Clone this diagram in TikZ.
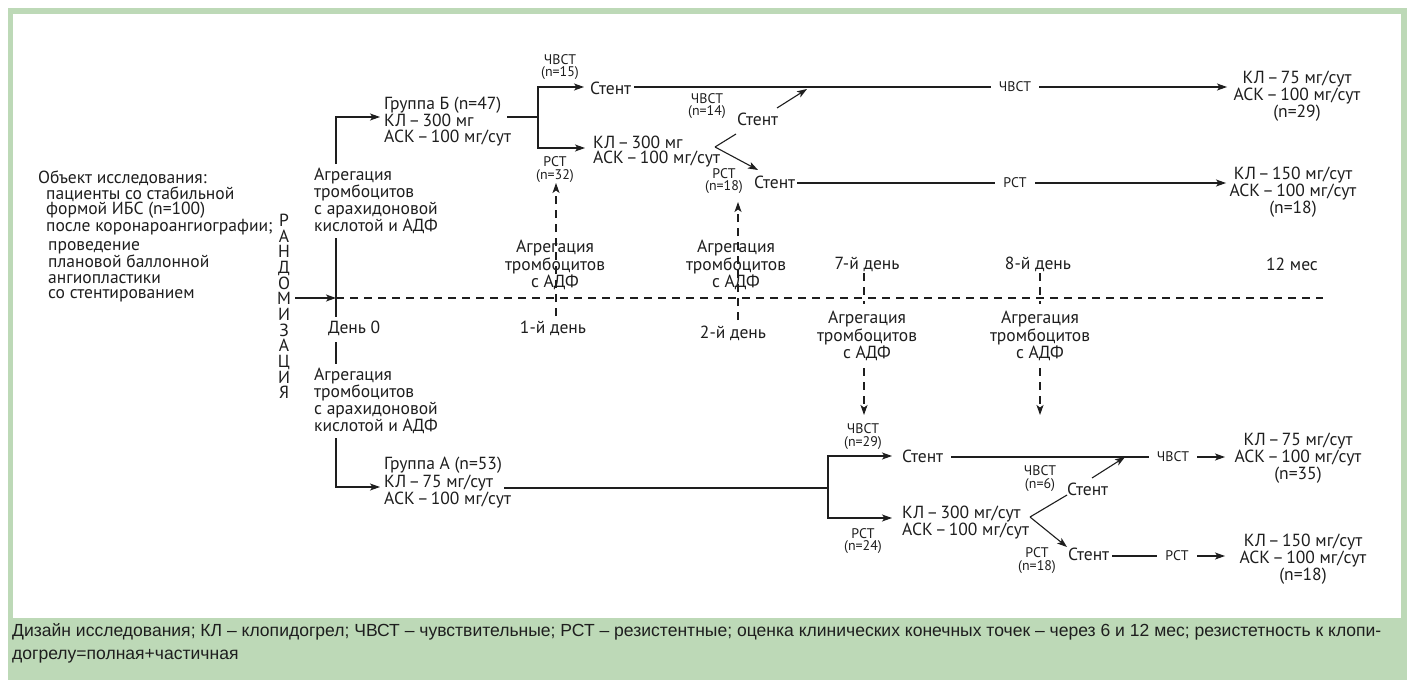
\documentclass[tikz,border=0pt]{standalone}
\usepackage{fontspec}
\setmainfont{PT Sans}
\newfontfamily\capfont{Liberation Sans}
\usetikzlibrary{arrows.meta}
\definecolor{gframe}{RGB}{189,217,183}
\definecolor{ink}{RGB}{30,30,30}
\newcommand{\sd}{\hspace{0.13em}–\hspace{0.13em}}
\tikzset{
  txt/.style={inner sep=0pt, font=\fontsize{17.6}{15.7}\selectfont, align=left, text=ink},
  ctxt/.style={inner sep=0pt, font=\fontsize{17.6}{15.7}\selectfont, align=center, text=ink},
  rtxt/.style={inner sep=0pt, font=\fontsize{17.6}{14.5}\selectfont, align=center, text=ink},
  sm/.style={inner sep=0pt, font=\fontsize{14}{12.5}\selectfont, align=center, text=ink},
  lbl/.style={fill=white, inner xsep=8bp, inner ysep=1bp, font=\fontsize{14}{12}\selectfont, text=ink},
  ln/.style={line width=1.1bp, draw=ink},
  arr/.style={ln, -{Stealth[length=10bp,width=7bp,inset=2.5bp]}},
  dsh/.style={ln, dash pattern=on 8bp off 6bp},
  darr/.style={dsh, -{Stealth[length=10bp,width=7bp,inset=2.5bp]}},
  captxt/.style={inner sep=0pt, anchor=west, font=\capfont\fontsize{17.6}{18}\selectfont, text=ink},
}
\begin{document}
\begin{tikzpicture}[x=1bp,y=-1bp]
\useasboundingbox (0,0) rectangle (1407,680);
\fill[gframe] (8,8) rectangle (1407,680);
\fill[white] (13,14) rectangle (1401,618);

% left texts
\node[txt, anchor=west] (obj1) at (38,178.5) {Объект исследования:};
\node[txt, anchor=west] (obj2) at (46,211) {пациенты со стабильной\\формой ИБС (n=100)\\после коронароангиографии;};
\node[txt, anchor=west] (obj3) at (48,272) {проведение\\плановой баллонной\\ангиопластики\\со стентированием};
\node[ctxt] (rand) at (284,306.5) {Р\\А\\Н\\Д\\О\\М\\И\\З\\А\\Ц\\И\\Я};

% day 0 column
\coordinate (d0) at (336,298);
\coordinate (randout) at (295,298);
\node[txt, anchor=west] (aggB) at (314,200.5) {Агрегация\\тромбоцитов\\с арахидоновой\\кислотой и АДФ};
\node[txt, anchor=west] (aggA) at (314,400.5) {Агрегация\\тромбоцитов\\с арахидоновой\\кислотой и АДФ};
\node[txt, anchor=west] (day0) at (328,328) {День 0};
\draw[arr] (randout) -- (d0);
\coordinate (d0a) at (336,164);
\coordinate (d0b) at (336,238);
\coordinate (d0c) at (336,317);
\coordinate (d0d) at (336,342);
\coordinate (d0e) at (336,364);
\coordinate (d0f) at (336,438);
\coordinate (grpBin) at (380,117);
\coordinate (grpAin) at (380,487);
\draw[ln] (d0b) -- (d0c);
\draw[ln] (d0d) -- (d0e);
\draw[arr] (d0a) |- (grpBin);
\draw[arr] (d0f) |- (grpAin);

% timeline
\coordinate (tlend) at (1323,298);
\draw[dsh] (d0) -- (tlend);

% group B
\node[txt, anchor=west] (grpB) at (384,121.5) {Группа Б (n=47)\\КЛ\sd 300 мг\\АСК\sd 100 мг/сут};
\coordinate (grpBout) at (507,117);
\coordinate (forkB) at (538,117);
\coordinate (stB1in) at (584,87);
\coordinate (klBin) at (585,148);
\draw[ln] (grpBout) -- (forkB);
\draw[arr] (forkB) |- (stB1in);
\draw[arr] (forkB) |- (klBin);
\node[sm] (chB15) at (560,67) {ЧВСТ\\(n=15)};
\node[sm] (rsB32) at (555,169.5) {РСТ\\(n=32)};
\node[txt, anchor=west] (stB1) at (590,88) {Стент};
\node[txt, anchor=west] (klB) at (593,151.5) {КЛ\sd 300 мг\\АСК\sd 100 мг/сут};
\coordinate (forkB2) at (715,147);
\coordinate (stB2in) at (736,134);
\coordinate (stB2out) at (777,108);
\coordinate (mergeB) at (807,89);
\coordinate (stB3in) at (758,170);
\draw[ln] (forkB2) -- (stB2in);
\draw[arr] (stB2out) -- (mergeB);
\draw[arr] (forkB2) -- (stB3in);
\node[txt, anchor=west] (stB2) at (737,119) {Стент};
\node[sm] (chB14) at (707,106) {ЧВСТ\\(n=14)};
\node[txt, anchor=west] (stB3) at (754,182) {Стент};
\node[sm, font=\fontsize{14}{12}\selectfont] (rsB18) at (724,181.5) {РСТ\\(n=18)};
\coordinate (resB1in) at (1227,87);
\coordinate (resB2in) at (1226,183);
\coordinate (stB1out) at (634,87);
\coordinate (stB3out) at (797,183);
\draw[arr] (stB1out) -- (resB1in);
\draw[arr] (stB3out) -- (resB2in);
\node[lbl] (lB1) at (1015,87) {ЧВСТ};
\node[lbl] (lB2) at (1015,183) {РСТ};
\node[rtxt] (resB1) at (1297,96) {КЛ\sd 75 мг/сут\\АСК\sd 100 мг/сут\\(n=29)};
\node[rtxt] (resB2) at (1293,192) {КЛ\sd 150 мг/сут\\АСК\sd 100 мг/сут\\(n=18)};

% day markers
\coordinate (v1top) at (556,183);
\coordinate (v1bot) at (556,316);
\coordinate (v2top) at (738,202);
\coordinate (v2bot) at (738,320);
\draw[darr] (v1bot) -- (v1top);
\draw[darr] (v2bot) -- (v2top);
\node[ctxt] (agg1) at (555,265) {Агрегация\\тромбоцитов\\с АДФ};
\node[ctxt] (agg2) at (736,265) {Агрегация\\тромбоцитов\\с АДФ};
\node[ctxt] (day1) at (553,328) {1-й день};
\node[ctxt] (day2) at (733,333) {2-й день};
\node[ctxt] (day7) at (867,264) {7-й день};
\node[ctxt] (day8) at (1038,264) {8-й день};
\node[ctxt] (m12) at (1292,264) {12 мес};
\coordinate (v7a) at (864,273);
\coordinate (v7b) at (864,304);
\coordinate (v7c) at (864,368);
\coordinate (v7d) at (864,415);
\coordinate (v8a) at (1040,273);
\coordinate (v8b) at (1040,304);
\coordinate (v8c) at (1040,368);
\coordinate (v8d) at (1040,415);
\draw[dsh] (v7a) -- (v7b);
\draw[dsh] (v8a) -- (v8b);
\draw[darr] (v7c) -- (v7d);
\draw[darr] (v8c) -- (v8d);
\node[ctxt] (agg7) at (867,336) {Агрегация\\тромбоцитов\\с АДФ};
\node[ctxt] (agg8) at (1040,336) {Агрегация\\тромбоцитов\\с АДФ};

% group A
\node[txt, anchor=west] (grpA) at (384,482.5) {Группа А (n=53)\\КЛ\sd 75 мг/сут\\АСК\sd 100 мг/сут};
\coordinate (grpAout) at (504,488);
\coordinate (forkA) at (828,488);
\coordinate (stA1in) at (892,456);
\coordinate (klAin) at (892,518);
\draw[ln] (grpAout) -- (forkA);
\draw[arr] (forkA) |- (stA1in);
\draw[arr] (forkA) |- (klAin);
\node[sm] (chA29) at (863,436.5) {ЧВСТ\\(n=29)};
\node[sm] (rsA24) at (863,541) {РСТ\\(n=24)};
\node[txt, anchor=west] (stA1) at (902,456) {Стент};
\node[txt, anchor=west] (klA) at (902,522.5) {КЛ\sd 300 мг/сут\\АСК\sd 100 мг/сут};
\coordinate (forkA2) at (1030,517);
\coordinate (stA2in) at (1067,495);
\coordinate (stA2out) at (1092,478);
\coordinate (mergeA) at (1125,457);
\coordinate (stA3in) at (1067,547);
\draw[ln] (forkA2) -- (stA2in);
\draw[arr] (stA2out) -- (mergeA);
\draw[arr] (forkA2) -- (stA3in);
\node[txt, anchor=west] (stA2) at (1067,489) {Стент};
\node[sm] (chA6) at (1040,478.5) {ЧВСТ\\(n=6)};
\node[txt, anchor=west] (stA3) at (1068,554) {Стент};
\node[sm] (rsA18) at (1037,560.5) {РСТ\\(n=18)};
\coordinate (stA1out) at (951,457);
\coordinate (stA3out) at (1112,556);
\coordinate (resA1in) at (1225,457);
\coordinate (resA2in) at (1225,556);
\draw[arr] (stA1out) -- (resA1in);
\draw[arr] (stA3out) -- (resA2in);
\node[lbl] (lA1) at (1173,457) {ЧВСТ};
\node[lbl] (lA2) at (1177,556) {РСТ};
\node[rtxt] (resA1) at (1298,458) {КЛ\sd 75 мг/сут\\АСК\sd 100 мг/сут\\(n=35)};
\node[rtxt] (resA2) at (1303,559) {КЛ\sd 150 мг/сут\\АСК\sd 100 мг/сут\\(n=18)};

% caption
\node[captxt] (cap1) at (12,632) {Дизайн исследования; КЛ – клопидогрел; ЧВСТ – чувствительные; РСТ – резистентные; оценка клинических конечных точек – через 6 и 12 мес; резистетность к клопи-};
\node[captxt] (cap2) at (12,656) {догрелу=полная+частичная};
\end{tikzpicture}
\end{document}
